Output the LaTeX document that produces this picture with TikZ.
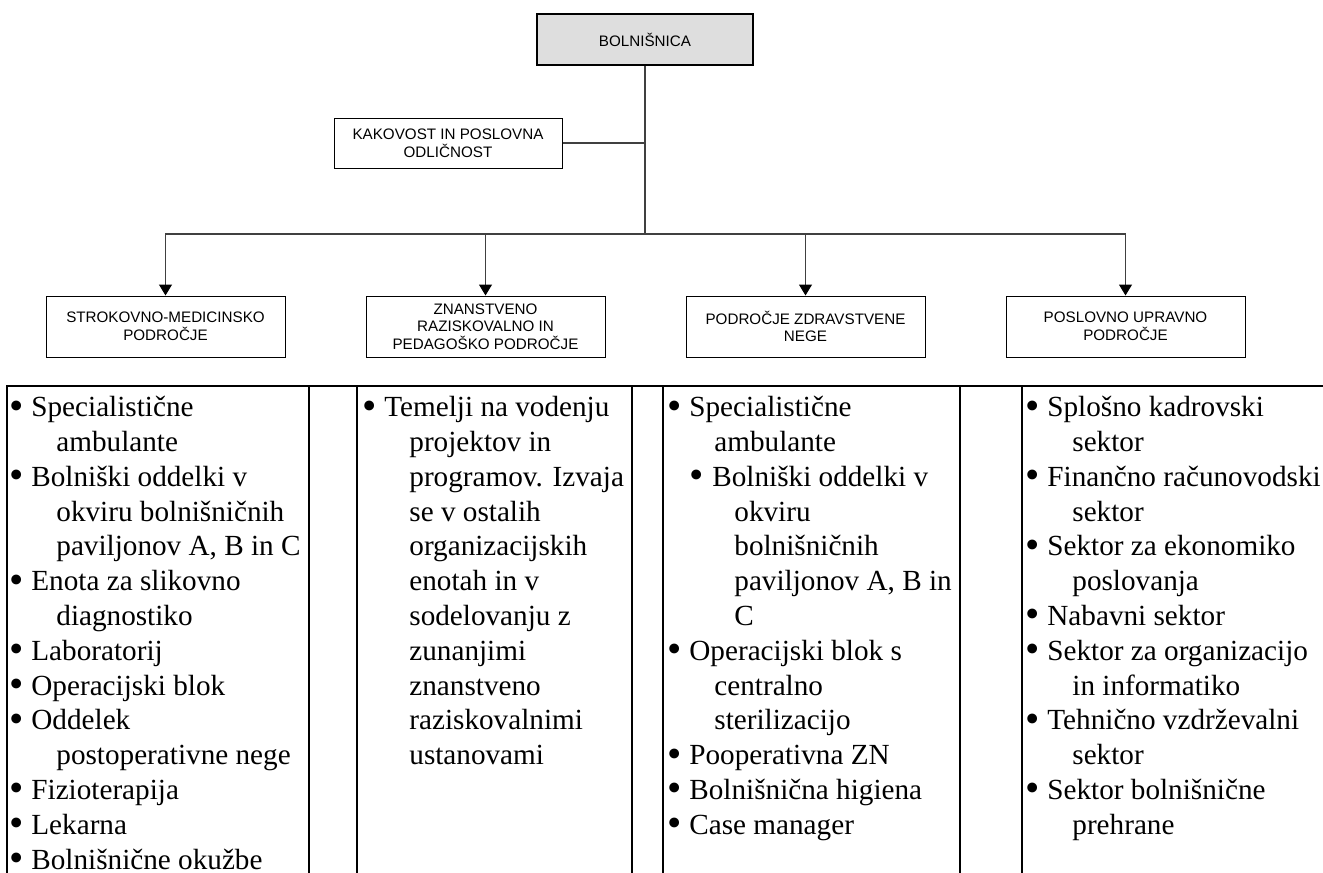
\documentclass[tikz,border=0pt]{standalone}
\usepackage{fontspec}
\setmainfont{Liberation Serif}
\setsansfont{Liberation Sans}
\usetikzlibrary{arrows.meta}
\definecolor{topfill}{RGB}{222,222,222}
\newcommand{\dotmark}{\smash{\raisebox{-1.2pt}{\scalebox{1.4}{\textbullet}}}}
\newcommand{\itm}[1]{\makebox[11pt][l]{\dotmark}#1}
\newcommand{\cnt}[1]{\hspace*{23.5pt}#1}
\newcommand{\subitm}[1]{\hspace*{11pt}\makebox[11.5pt][l]{\dotmark}#1}
\newcommand{\subcnt}[1]{\hspace*{33.5pt}#1}

\begin{document}
\begin{tikzpicture}[x=0.5pt, y=-0.5pt,
          areabox/.style={draw, line width=0.5pt, minimum width=119.5pt,
                          minimum height=30.5pt, inner sep=1pt, align=center,
                          font=\sffamily\fontsize{7.6}{8.85}\selectfont},
          rootbox/.style={areabox, fill=topfill, line width=0.9pt,
                          minimum width=108pt, minimum height=25.5pt},
          sidebox/.style={areabox, minimum width=114pt, minimum height=25pt},
          cell/.style={anchor=north west, inner sep=0pt, align=left,
                       font=\fontsize{14.6}{17.4}\selectfont},
          link/.style={draw=black!75, line width=0.6pt},
          downlink/.style={link, -{Triangle[length=5.5pt, width=6.5pt, color=black]}},
          tabline/.style={line width=1pt}
      ]
        \useasboundingbox (0,0) rectangle (1323,873);
        \node[rootbox] (root) at (645,39.5) {BOLNIŠNICA};
        \node[sidebox] (kak)  at (448,143)  {KAKOVOST IN POSLOVNA\\ODLIČNOST};
        \node[areabox] (med)  at (165.5,326.5)  {STROKOVNO-MEDICINSKO\\PODROČJE};
        \node[areabox] (zna)  at (485.5,326.5)  {ZNANSTVENO\\RAZISKOVALNO IN\\PEDAGOŠKO PODROČJE};
        \node[areabox] (zn)   at (805.5,326.5)  {PODROČJE ZDRAVSTVENE\\NEGE};
        \node[areabox] (pos)  at (1125.5,326.5) {POSLOVNO UPRAVNO\\PODROČJE};
        \coordinate (bus) at (645,234);
        \draw[link] (root) -- (bus);
        \draw[link] (kak) -- (kak -| root);
        \foreach \n in {med,zna,zn,pos}
          \draw[downlink] (bus) -| (\n);
        \draw[tabline] (7,873) -- (7,386) -- (1323,386);
        \foreach \x in {309,357,632,663,960,1022}
          \draw[tabline] (\x,386) -- (\x,873);
        \node[cell] (medlist) at (9,396) {\itm{Specialistične}\\\cnt{ambulante}\\
          \itm{Bolniški oddelki v}\\\cnt{okviru bolnišničnih}\\\cnt{paviljonov A, B in C}\\
          \itm{Enota za slikovno}\\\cnt{diagnostiko}\\\itm{Laboratorij}\\
          \itm{Operacijski blok}\\\itm{Oddelek}\\\cnt{postoperativne nege}\\
          \itm{Fizioterapija}\\\itm{Lekarna}\\\itm{Bolnišnične okužbe}};
        \node[cell] (znalist) at (362,396) {\itm{Temelji na vodenju}\\\cnt{projektov in}\\
          \cnt{programov. Izvaja}\\\cnt{se v ostalih}\\\cnt{organizacijskih}\\
          \cnt{enotah in v}\\\cnt{sodelovanju z}\\\cnt{zunanjimi}\\\cnt{znanstveno}\\
          \cnt{raziskovalnimi}\\\cnt{ustanovami}};
        \node[cell] (znlist) at (667,396) {\itm{Specialistične}\\\cnt{ambulante}\\
          \subitm{Bolniški oddelki v}\\\subcnt{okviru}\\\subcnt{bolnišničnih}\\
          \subcnt{paviljonov A, B in}\\\subcnt{C}\\
          \itm{Operacijski blok s}\\\cnt{centralno}\\\cnt{sterilizacijo}\\
          \itm{Pooperativna ZN}\\\itm{Bolnišnična higiena}\\\itm{Case manager}};
        \node[cell] (poslist) at (1025,396) {\itm{Splošno kadrovski}\\\cnt{sektor}\\
          \itm{Finančno računovodski}\\\cnt{sektor}\\
          \itm{Sektor za ekonomiko}\\\cnt{poslovanja}\\\itm{Nabavni sektor}\\
          \itm{Sektor za organizacijo}\\\cnt{in informatiko}\\
          \itm{Tehnično vzdrževalni}\\\cnt{sektor}\\
          \itm{Sektor bolnišnične}\\\cnt{prehrane}};
      \end{tikzpicture}
\end{document}
